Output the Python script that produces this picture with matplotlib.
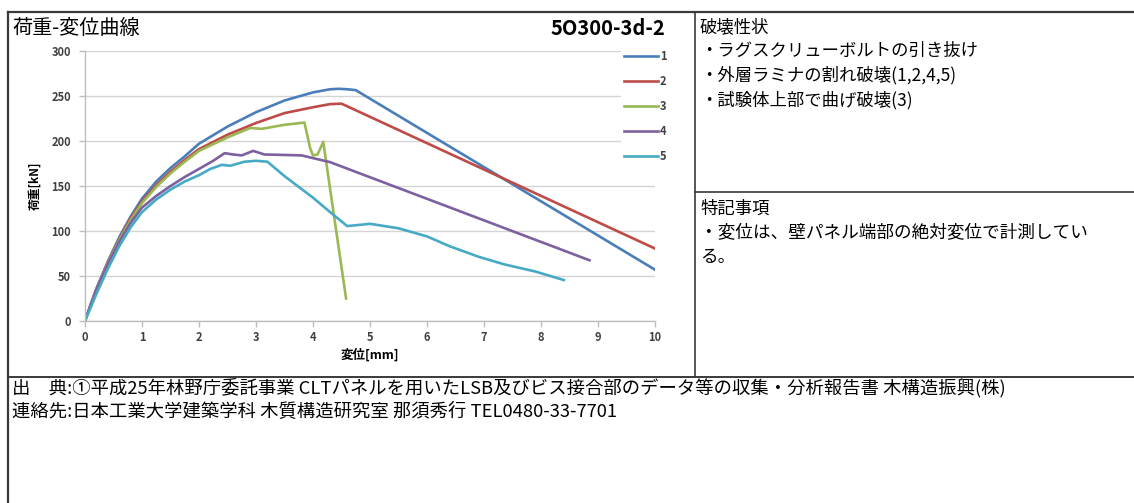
import matplotlib
matplotlib.use("Agg")
import matplotlib.pyplot as plt
from matplotlib.lines import Line2D

plt.rcParams['font.family'] = ['Noto Sans CJK JP', 'DejaVu Sans']

# ---- data ----
series_labels = ["1", "2", "3", "4", "5"]
series_colors = ["#4A7EBB", "#BE4B48", "#98B954", "#7D60A0", "#46AAC5"]

x1 = [0, 0.1, 0.2, 0.4, 0.6, 0.8, 1.0, 1.25, 1.5, 1.75, 2.0, 2.5, 3.0, 3.5, 4.0, 4.3, 4.45, 4.6, 4.75, 10.0]
y1 = [0, 18, 36, 66, 93, 116, 136, 155, 170, 183, 197, 216, 232, 245, 254, 257.5, 258, 257.5, 256.5, 57]

x2 = [0, 0.1, 0.2, 0.4, 0.6, 0.8, 1.0, 1.25, 1.5, 1.75, 2.0, 2.5, 3.0, 3.5, 4.0, 4.3, 4.5, 10.0]
y2 = [0, 18, 35, 65, 91, 114, 133, 151, 166, 179, 191, 207, 220, 231, 237.5, 241, 241.5, 80.5]

x3 = [0, 0.1, 0.2, 0.4, 0.6, 0.8, 1.0, 1.25, 1.5, 1.75, 2.0, 2.5, 2.9, 3.1, 3.5, 3.85, 3.95, 4.0, 4.08, 4.18, 4.58]
y3 = [0, 18, 35, 64, 90, 112, 131, 149, 164, 177, 189, 204, 214.5, 213.5, 218, 220.5, 192, 184, 185, 199, 25]

x4 = [0, 0.1, 0.2, 0.4, 0.6, 0.8, 1.0, 1.25, 1.5, 1.75, 2.0, 2.25, 2.45, 2.6, 2.75, 2.95, 3.15, 3.5, 3.8, 4.0, 4.3, 8.85]
y4 = [0, 18, 35, 63, 88, 109, 126, 139, 150, 160, 169, 178, 186.5, 185, 184, 189, 185, 184.5, 184, 181, 176.5, 67.5]

x5 = [0, 0.1, 0.2, 0.4, 0.6, 0.8, 1.0, 1.25, 1.5, 1.75, 2.0, 2.2, 2.4, 2.55, 2.8, 3.0, 3.2, 3.5, 4.0, 4.3,
      4.6, 4.85, 5.0, 5.5, 6.0, 6.4, 6.9, 7.35, 7.9, 8.4]
y5 = [0, 15, 30, 58, 83, 104, 121, 135, 146, 155, 162, 169, 173.5, 172.5, 177, 178, 177, 161, 137, 121,
      105.5, 107, 108, 103, 94, 83, 71.5, 63, 55, 45.5]

xs = [x1, x2, x3, x4, x5]
ys = [y1, y2, y3, y4, y5]

x_ticks = list(range(0, 11))
y_ticks = [0, 50, 100, 150, 200, 250, 300]

chart_title = "荷重-変位曲線"
specimen = "5O300-3d-2"
x_label = "変位[mm]"
y_label = "荷重[kN]"

failure_head = "破壊性状"
failure_lines = ["・ラグスクリューボルトの引き抜け", "・外層ラミナの割れ破壊(1,2,4,5)", "・試験体上部で曲げ破壊(3)"]
notes_head = "特記事項"
notes_lines = ["・変位は、壁パネル端部の絶対変位で計測してい", "る。"]
source_line = "出\u3000典:①平成25年林野庁委託事業 CLTパネルを用いたLSB及びビス接合部のデータ等の収集・分析報告書 木構造振興(株)"
contact_line = "連絡先:日本工業大学建築学科 木質構造研究室 那須秀行 TEL0480-33-7701"

# ---- figure ----
W, H = 1134, 503
fig = plt.figure(figsize=(W / 100, H / 100), dpi=100)
fig.patch.set_facecolor("white")

# overlay in pixel coordinates for frame and text
ov = fig.add_axes([0, 0, 1, 1])
ov.set_xlim(0, W)
ov.set_ylim(H, 0)
ov.axis("off")

frame_c = "#3a3a3a"
ov.add_line(Line2D([8, W], [12, 12], color=frame_c, lw=1.6))
ov.add_line(Line2D([8, 8], [12, H], color=frame_c, lw=1.6))
ov.add_line(Line2D([695, 695], [12, 377], color=frame_c, lw=1.2))
ov.add_line(Line2D([8, W], [377, 377], color=frame_c, lw=1.4))
ov.add_line(Line2D([695, W], [192, 192], color=frame_c, lw=1.2))

ov.text(12, 28, chart_title, fontsize=14.5, va="center", ha="left")
ov.text(665, 28, specimen, fontsize=14.5, fontweight="bold", va="center", ha="right")

ov.text(700, 27, failure_head, fontsize=12.5, va="center", ha="left")
for i, t in enumerate(failure_lines):
    ov.text(700, 51 + 24.5 * i, t, fontsize=12.5, va="center", ha="left")
ov.text(700, 209, notes_head, fontsize=12.5, va="center", ha="left")
for i, t in enumerate(notes_lines):
    ov.text(700, 233 + 24 * i, t, fontsize=12.7, va="center", ha="left")

ov.text(12, 388, source_line, fontsize=13.2, va="center", ha="left")
ov.text(12, 412, contact_line, fontsize=13.2, va="center", ha="left")

# ---- chart ----
ax = fig.add_axes([85 / W, (H - 321) / H, 570 / W, 270 / H])
for xv, yv, c, lab in zip(xs, ys, series_colors, series_labels):
    ax.plot(xv, yv, color=c, lw=1.9, label=lab, solid_joinstyle="round")

ax.set_xlim(0, 10)
ax.set_ylim(0, 300)
ax.set_xticks(x_ticks)
ax.set_yticks(y_ticks)
ax.grid(axis="y", color="#d4d4d4", lw=1.0)
ax.set_axisbelow(True)
for s in ["top", "right"]:
    ax.spines[s].set_visible(False)
for s in ["left", "bottom"]:
    ax.spines[s].set_color("#bdbdbd")
    ax.spines[s].set_linewidth(1.0)
ax.tick_params(axis="both", colors="#bdbdbd", length=4, width=1, labelsize=8,
               labelcolor="#404040", direction="out")
for lbl in ax.get_xticklabels() + ax.get_yticklabels():
    lbl.set_fontweight("bold")
ax.tick_params(axis="x", pad=3)
ax.tick_params(axis="y", pad=6)

ax.set_xlabel(x_label, fontsize=9, fontweight="bold", labelpad=3)
ax.set_ylabel(y_label, fontsize=8.5, fontweight="bold", labelpad=7)

leg = ax.legend(loc="upper left", bbox_to_anchor=(621 / W, 1 - 47 / H), bbox_transform=fig.transFigure,
                frameon=True, fancybox=False, fontsize=8, handlelength=3.0, handletextpad=0.2,
                labelspacing=1.08, borderpad=0.3, borderaxespad=0)
leg.get_frame().set_facecolor("white")
leg.get_frame().set_edgecolor("none")
leg.get_frame().set_alpha(1)
for t in leg.get_texts():
    t.set_fontweight("bold")
    t.set_color("#404040")

fig.savefig("out.png", dpi=100, facecolor="white")
